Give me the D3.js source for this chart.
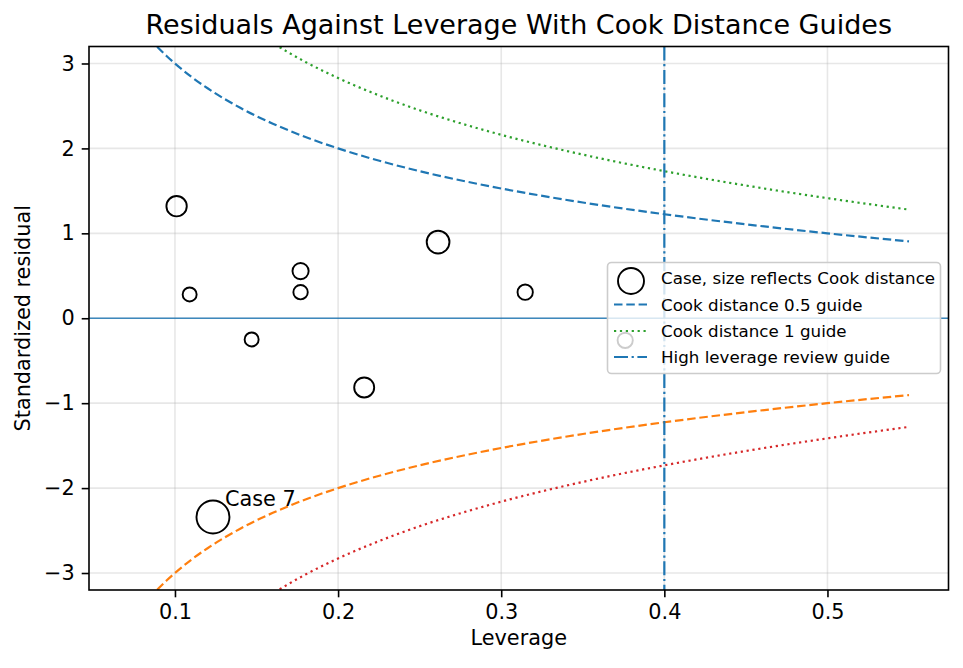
<!DOCTYPE html>
<html>
<head>
<meta charset="utf-8">
<script src="https://cdn.jsdelivr.net/npm/d3@7"></script>
<style>
  html, body { margin: 0; padding: 0; background: #fff; }
  svg { display: block; font-family: "DejaVu Sans", sans-serif; }
</style>
</head>
<body>
<svg id="chart" width="963" height="668"></svg>
<script>
// ---------- data ----------
const caseLeverage = [0.101, 0.109, 0.147, 0.177, 0.177, 0.216, 0.2613, 0.3147, 0.376, 0.1233];
const caseResidual = [1.32, 0.28, -0.25, 0.555, 0.307, -0.815, 0.897, 0.307, -0.26, -2.34];
const caseCook     = [0.098, 0.005, 0.0054, 0.033, 0.010, 0.0915, 0.142, 0.0216, 0.0204, 0.385];
const caseLabels   = ["", "", "", "", "", "", "", "", "", "Case 7"];

const guideLeverage = [0.07, 0.075, 0.08, 0.085, 0.09, 0.095, 0.10, 0.11, 0.12, 0.13, 0.14, 0.15, 0.16, 0.17, 0.18, 0.20, 0.22, 0.25, 0.28, 0.30, 0.35, 0.40, 0.45, 0.50, 0.55];
const cook05Upper = [3.645, 3.512, 3.391, 3.281, 3.180, 3.086, 3.000, 2.844, 2.708, 2.587, 2.478, 2.380, 2.291, 2.210, 2.134, 2.000, 1.883, 1.732, 1.604, 1.528, 1.363, 1.225, 1.106, 1.000, 0.905];
const cook05Lower = [-3.645, -3.512, -3.391, -3.281, -3.180, -3.086, -3.000, -2.844, -2.708, -2.587, -2.478, -2.380, -2.291, -2.210, -2.134, -2.000, -1.883, -1.732, -1.604, -1.528, -1.363, -1.225, -1.106, -1.000, -0.905];
const cook1Upper = [5.155, 4.967, 4.796, 4.640, 4.497, 4.364, 4.243, 4.022, 3.830, 3.658, 3.505, 3.366, 3.240, 3.125, 3.018, 2.828, 2.663, 2.449, 2.268, 2.160, 1.927, 1.732, 1.563, 1.414, 1.279];
const cook1Lower = [-5.155, -4.967, -4.796, -4.640, -4.497, -4.364, -4.243, -4.022, -3.830, -3.658, -3.505, -3.366, -3.240, -3.125, -3.018, -2.828, -2.663, -2.449, -2.268, -2.160, -1.927, -1.732, -1.563, -1.414, -1.279];
const highLeverage = 0.4;

const xTicks = [0.1, 0.2, 0.3, 0.4, 0.5];
const yTicks = [-3, -2, -1, 0, 1, 2, 3];
const legendLabels = ["Case, size reflects Cook distance", "Cook distance 0.5 guide", "Cook distance 1 guide", "High leverage review guide"];
const titleText = "Residuals Against Leverage With Cook Distance Guides";
const xLabel = "Leverage";
const yLabel = "Standardized residual";

// ---------- layout ----------
const L = 89, R = 948.5, T = 46.5, B = 590;
const svg = d3.select("#chart");
const x = d3.scaleLinear().domain([0.0473, 0.5742]).range([L, R]);
const y = d3.scaleLinear().domain([-3.2, 3.2]).range([B, T]);
const areaScale = d3.scaleLinear().domain([0, 0.4]).range([46, 281]);
const radius = d => Math.sqrt(areaScale(d));

const C0 = "#1f77b4", C1 = "#ff7f0e", C2 = "#2ca02c", C3 = "#d62728";
const lw = 2.2;

svg.append("defs").append("clipPath").attr("id", "clip")
  .append("rect").attr("x", L).attr("y", T).attr("width", R - L).attr("height", B - T);

// grid
const grid = svg.append("g");
grid.selectAll(".gx").data(xTicks).enter().append("line")
  .attr("x1", d => x(d)).attr("x2", d => x(d)).attr("y1", T).attr("y2", B)
  .attr("stroke", "#b0b0b0").attr("stroke-opacity", 0.3).attr("stroke-width", 1.6);
grid.selectAll(".gy").data(yTicks).enter().append("line")
  .attr("y1", d => y(d)).attr("y2", d => y(d)).attr("x1", L).attr("x2", R)
  .attr("stroke", "#b0b0b0").attr("stroke-opacity", 0.3).attr("stroke-width", 1.6);

const plot = svg.append("g").attr("clip-path", "url(#clip)");

// zero line
plot.append("line").attr("x1", L).attr("x2", R).attr("y1", y(0)).attr("y2", y(0))
  .attr("stroke", C0).attr("stroke-opacity", 0.85).attr("stroke-width", 1.6);

const lineGen = d3.line().x(d => x(d[0])).y(d => y(d[1])).curve(d3.curveMonotoneX);
const guides = [
  {vals: cook05Upper, color: C0, dash: [8.5, 3.8]},
  {vals: cook05Lower, color: C1, dash: [8.5, 3.8]},
  {vals: cook1Upper, color: C2, dash: [2.2, 3.7]},
  {vals: cook1Lower, color: C3, dash: [2.2, 3.7]}
];
guides.forEach(g => {
  plot.append("path").datum(guideLeverage.map((h, i) => [h, g.vals[i]]))
    .attr("d", lineGen).attr("fill", "none").attr("stroke", g.color)
    .attr("stroke-width", lw).attr("stroke-dasharray", g.dash.join(","));
});

// high leverage vertical
plot.append("line").attr("x1", x(highLeverage)).attr("x2", x(highLeverage)).attr("y1", T).attr("y2", B)
  .attr("stroke", C0).attr("stroke-width", lw).attr("stroke-dasharray", "14,3.6,2.2,3.6");

// points
plot.selectAll(".pt").data(caseLeverage.map((h, i) => ({h, r: caseResidual[i], c: caseCook[i]})))
  .enter().append("circle")
  .attr("cx", d => x(d.h)).attr("cy", d => y(d.r)).attr("r", d => radius(d.c))
  .attr("fill", "none").attr("stroke", "#000").attr("stroke-width", 1.9);

// annotation
caseLabels.forEach((lab, i) => {
  if (!lab) return;
  svg.append("text").attr("x", x(caseLeverage[i]) + 12).attr("y", y(caseResidual[i]) - 11)
    .attr("font-size", "20.8px").attr("fill", "#000").text(lab);
});

// axes
const xAxis = d3.axisBottom(x).tickValues(xTicks).tickFormat(d3.format(".1f")).tickSizeInner(7.3).tickSizeOuter(0).tickPadding(7);
const yAxis = d3.axisLeft(y).tickValues(yTicks).tickFormat(d3.format("d")).tickSizeInner(7.3).tickSizeOuter(0).tickPadding(7);
const gx = svg.append("g").attr("transform", `translate(0,${B})`).call(xAxis);
const gy = svg.append("g").attr("transform", `translate(${L},0)`).call(yAxis);
[gx, gy].forEach(g => {
  g.select(".domain").remove();
  g.selectAll(".tick line").attr("stroke", "#000").attr("stroke-width", 1.6);
  g.selectAll(".tick text").attr("font-size", "20.8px").attr("fill", "#000").attr("font-family", "DejaVu Sans");
});
gx.selectAll(".tick text").attr("dy", "0.72em");

// spines
svg.append("rect").attr("x", L).attr("y", T).attr("width", R - L).attr("height", B - T)
  .attr("fill", "none").attr("stroke", "#000").attr("stroke-width", 1.6);

// labels
svg.append("text").attr("x", (L + R) / 2).attr("y", 34).attr("text-anchor", "middle")
  .attr("font-size", "27px").text(titleText);
svg.append("text").attr("x", (L + R) / 2).attr("y", 645).attr("text-anchor", "middle")
  .attr("font-size", "20.8px").text(xLabel);
svg.append("text").attr("transform", `translate(30,${(T + B) / 2}) rotate(-90)`).attr("text-anchor", "middle")
  .attr("font-size", "20.8px").text(yLabel);

// legend
const lg = svg.append("g");
lg.append("rect").attr("x", 607.5).attr("y", 262.5).attr("width", 333).attr("height", 111).attr("rx", 4)
  .attr("fill", "#fff").attr("fill-opacity", 0.8).attr("stroke", "#cccccc").attr("stroke-width", 1.6);
const rowY = [278, 304.5, 331, 357];
lg.append("circle").attr("cx", 631).attr("cy", 281).attr("r", 13).attr("fill", "none").attr("stroke", "#000").attr("stroke-width", 1.9);
const legendStyles = [null, {c: C0, d: "8.5,3.8"}, {c: C2, d: "2.2,3.7"}, {c: C0, d: "14,3.6,2.2,3.6"}];
legendStyles.forEach((s, i) => {
  if (!s) return;
  lg.append("line").attr("x1", 614).attr("x2", 647).attr("y1", rowY[i]).attr("y2", rowY[i])
    .attr("stroke", s.c).attr("stroke-width", lw).attr("stroke-dasharray", s.d);
});
legendLabels.forEach((t, i) => {
  lg.append("text").attr("x", 661).attr("y", rowY[i]).attr("dy", "0.36em")
    .attr("font-size", "16.7px").text(t);
});
</script>
</body>
</html>
